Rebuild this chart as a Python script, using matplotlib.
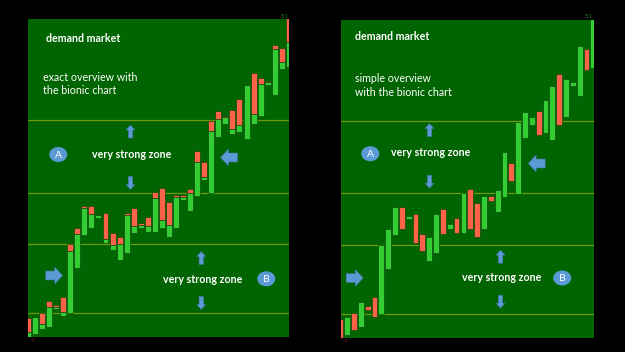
import matplotlib
matplotlib.use("Agg")
import matplotlib.pyplot as plt
from matplotlib.patches import Polygon, Ellipse

# bar data (price units, 0 = bottom of panel)
lows = [-2, 3, 7.7, 10.3, 28, 21, 23.7, 68.7, 102.3, 109, 119.3, 94.3, 86.7, 77, 84.3, 104, 109, 105, 105,
        109, 100.3, 109, 137, 126.3, 141.3, 157, 144, 200.3, 213, 203.3, 205, 198, 213.3, 221.3, 252, 242, 267.7, 270.3]
highs = [18.7, 20.3, 24.3, 36, 32, 40.3, 92.7, 109.3, 131.3, 131.3, 122, 123.7, 103.7, 100.3, 123.7, 129, 113.7, 120.3, 145,
         149, 135, 142.3, 141.7, 148, 186.3, 175.3, 216.3, 226.3, 221, 227, 238, 252, 264, 259.3, 256, 292, 289.3, 320]
# bionic split: green from low up to split, red from split up to high
splits = [5, 19.7, 13, 29.7, 30.3, 25.3, 86.3, 103, 129.3, 123, 122, 98, 92, 93, 121.7, 111.3, 112, 111.3, 138.7,
          117.3, 112.3, 140.3, 140, 144, 174.7, 160, 206.3, 218, 220, 208, 212, 252, 223, 253, 254.7, 288.3, 275.3, 295.3]
# simple chart colours: G up, R down
simple = "RGRGRRGGGRGRRGGRGRGRRGRGGRGGGRGGRGGGRG"
levels = [24, 92.7, 144.5, 217]

GREEN = "#33cc33"
RED = "#ff6347"
BG = "#006400"
LINE = "#6f9a0a"
BLUE = "#5b9bd5"

fig = plt.figure(figsize=(6.25, 3.52), dpi=100, facecolor="black")
W, H = 625, 352

def panel(x0, x1, ytop, ybot, xlim):
    ax = fig.add_axes([x0 / W, (H - ybot) / H, (x1 - x0) / W, (ybot - ytop) / H])
    ax.set_facecolor(BG)
    ax.set_xlim(*xlim)
    ax.set_ylim(0, 318)
    ax.set_xticks([])
    ax.set_yticks([])
    for s in ax.spines.values():
        s.set_visible(False)
    for lv in levels:
        ax.axhline(lv, color=LINE, lw=0.9, zorder=1)
    return ax

axL = panel(27.7, 289.3, 19, 337, (-0.035, 37.07))
axR = panel(341, 593.5, 20, 337.7, (0.1, 37.02))

idx = list(range(len(lows)))
wid = 0.85
# left: bionic bars
g_h = [s - l for s, l in zip(splits, lows)]
r_h = [h - s for h, s in zip(highs, splits)]
axL.bar(idx, g_h, bottom=lows, width=wid, color=GREEN, edgecolor="#0d4d0d", lw=0.5, zorder=3)
axL.bar(idx, r_h, bottom=splits, width=wid, color=RED, edgecolor="#0d4d0d", lw=0.5, zorder=3)
# right: simple bars
cols = [GREEN if c == "G" else RED for c in simple]
axR.bar(idx, [h - l for h, l in zip(highs, lows)], bottom=lows, width=wid, color=cols,
        edgecolor="#0d4d0d", lw=0.5, zorder=3)

# overlay in pixel coordinates for annotations
ov = fig.add_axes([0, 0, 1, 1])
ov.set_xlim(0, W)
ov.set_ylim(H, 0)
ov.axis("off")
ov.patch.set_alpha(0)

FONT = ["Lato", "DejaVu Sans"]

def arrow(cx, cy, direction, big=False):
    if big:
        L, sw, hw, hl = 17, 9, 17, 8
    else:
        L, sw, hw, hl = 13, 4.5, 9, 5
    pts = [(-L / 2, -sw / 2), (L / 2 - hl, -sw / 2), (L / 2 - hl, -hw / 2), (L / 2, 0),
           (L / 2 - hl, hw / 2), (L / 2 - hl, sw / 2), (-L / 2, sw / 2)]
    if direction == "right":
        p = [(cx + a, cy + b) for a, b in pts]
    elif direction == "left":
        p = [(cx - a, cy + b) for a, b in pts]
    elif direction == "up":
        p = [(cx + b, cy - a) for a, b in pts]
    else:
        p = [(cx + b, cy + a) for a, b in pts]
    ov.add_patch(Polygon(p, closed=True, facecolor=BLUE, edgecolor="#41719c", lw=0.4, zorder=5))

def badge(cx, cy, letter):
    ov.add_patch(Ellipse((cx, cy), 18, 15, facecolor=BLUE, edgecolor="none", zorder=5))
    ov.text(cx, cy + 0.5, letter, color="white", fontsize=7.5, ha="center", va="center", family=FONT, zorder=6)

def label(x, y, s, bold=False):
    ov.text(x, y, s, color="white", fontsize=7.7, ha="left", va="center", family=FONT,
            fontweight="bold" if bold else "normal", zorder=6)

# left panel annotations
label(45.5, 39, "demand market", bold=True)
label(43.3, 77.7, "exact overview with")
label(43.3, 91, "the bionic chart")
badge(58.3, 154.5, "A")
label(92, 154, "very strong zone", bold=True)
arrow(130.5, 131.5, "up")
arrow(130.5, 183, "down")
arrow(229, 157.5, "left", big=True)
arrow(54.2, 275.5, "right", big=True)
label(162.7, 279.3, "very strong zone", bold=True)
badge(266.3, 278.8, "B")
arrow(201.3, 258, "up")
arrow(201.3, 303, "down")

# right panel annotations
label(355, 36, "demand market", bold=True)
label(355, 78.7, "simple overview")
label(355, 92.7, "with the bionic chart")
badge(370.3, 153.7, "A")
label(391, 152.7, "very strong zone", bold=True)
arrow(429.5, 130, "up")
arrow(429.5, 181.7, "down")
arrow(536.7, 163.5, "left", big=True)
arrow(354.7, 278, "right", big=True)
label(461.7, 277.3, "very strong zone", bold=True)
badge(562.2, 278, "B")
arrow(500.5, 256.7, "up")
arrow(500.5, 301.7, "down")

# tiny corner marks
ov.text(285, 16, "3:1", color="#1f8f1f", fontsize=3.5, ha="center", va="center")
ov.text(589, 17, "3:1", color="#1f8f1f", fontsize=3.5, ha="center", va="center")
ov.text(32, 340, "-.1", color="#b22222", fontsize=3, ha="center", va="center")
ov.text(345, 341, "-.1", color="#b22222", fontsize=3, ha="center", va="center")

fig.savefig("out.png", dpi=100, facecolor="black")
